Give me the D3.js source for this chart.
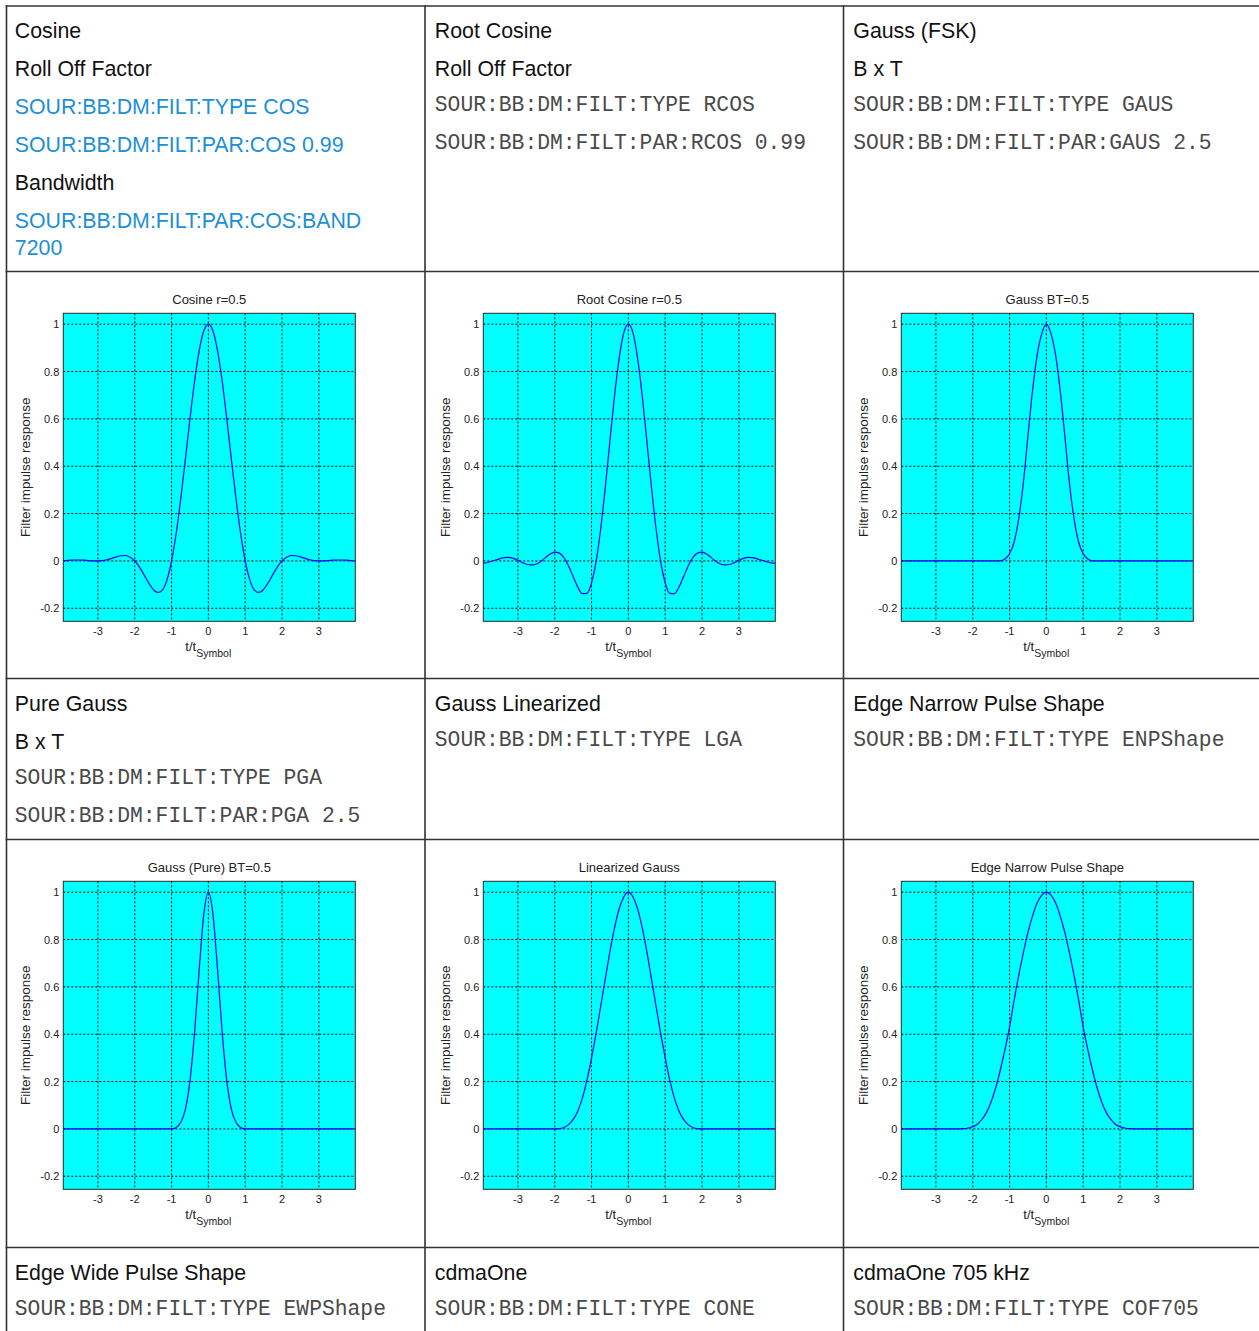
<!DOCTYPE html>
<html>
<head>
<meta charset="utf-8">
<script src="https://cdn.jsdelivr.net/npm/d3@7"></script>
<style>
  body { margin: 0; background: #fff; }
  svg text { font-family: "Liberation Sans", Arial, sans-serif; }
</style>
</head>
<body>
<svg id="chart" width="1259" height="1331"></svg>
<script>
// sample points of t/tSymbol
var tSymbol = [-4, -3.875, -3.75, -3.625, -3.5, -3.375, -3.25, -3.125, -3, -2.875, -2.75, -2.625, -2.5, -2.375, -2.25, -2.125,
  -2, -1.875, -1.75, -1.625, -1.5, -1.375, -1.25, -1.125, -1, -0.875, -0.75, -0.625, -0.5, -0.375, -0.25, -0.125,
  0, 0.125, 0.25, 0.375, 0.5, 0.625, 0.75, 0.875, 1, 1.125, 1.25, 1.375, 1.5, 1.625, 1.75, 1.875,
  2, 2.125, 2.25, 2.375, 2.5, 2.625, 2.75, 2.875, 3, 3.125, 3.25, 3.375, 3.5, 3.625, 3.75, 3.875, 4];

var cosineR05 = [0, .001, .003, .004, .004, .003, .001, 0, 0, .001, .005, .011, .017, .022, .023, .016,
  0, -.025, -.058, -.092, -.120, -.133, -.123, -.080, 0, .116, .263, .429, .600, .759, .887, .971,
  1, .971, .887, .759, .600, .429, .263, .116, 0, -.080, -.123, -.133, -.120, -.092, -.058, -.025,
  0, .016, .023, .022, .017, .011, .005, .001, 0, 0, .001, .003, .004, .004, .003, .001, 0];

var rootCosineR05 = [-.009, -.008, -.003, .003, .009, .014, .015, .011, .003, -.007, -.015, -.017, -.013, -.002, .014, .029,
  .037, .033, .014, -.021, -.066, -.110, -.138, -.137, -.093, -.001, .138, .314, .509, .699, .857, .963,
  1, .963, .857, .699, .509, .314, .138, -.001, -.093, -.137, -.138, -.110, -.066, -.021, .014, .033,
  .037, .029, .014, -.002, -.013, -.017, -.015, -.007, .003, .011, .015, .014, .009, .003, -.003, -.008, -.009];

var gaussBT05 = [0, 0, 0, 0, 0, 0, 0, 0, 0, 0, 0, 0, 0, 0, 0, 0,
  0, 0, 0, 0, 0, 0, 0, .008, .03, .08, .18, .33, .53, .72, .87, .96,
  1, .96, .87, .72, .53, .33, .18, .08, .03, .008, 0, 0, 0, 0, 0, 0,
  0, 0, 0, 0, 0, 0, 0, 0, 0, 0, 0, 0, 0, 0, 0, 0, 0];

var pureGaussBT05 = [0, 0, 0, 0, 0, 0, 0, 0, 0, 0, 0, 0, 0, 0, 0, 0,
  0, 0, 0, 0, 0, 0, 0, 0, 0, .006, .028, .083, .203, .408, .671, .905,
  1, .905, .671, .408, .203, .083, .028, .006, 0, 0, 0, 0, 0, 0, 0, 0,
  0, 0, 0, 0, 0, 0, 0, 0, 0, 0, 0, 0, 0, 0, 0, 0, 0];

var linearizedGauss = [0, 0, 0, 0, 0, 0, 0, 0, 0, 0, 0, 0, 0, 0, 0, 0,
  0, .001, .006, .018, .04, .075, .13, .205, .30, .405, .52, .635, .75, .85, .93, .98,
  1, .98, .93, .85, .75, .635, .52, .405, .30, .205, .13, .075, .04, .018, .006, .001,
  0, 0, 0, 0, 0, 0, 0, 0, 0, 0, 0, 0, 0, 0, 0, 0, 0];

var edgeNarrow = [0, 0, 0, 0, 0, 0, 0, 0, 0, 0, 0, 0, 0, 0, .001, .004,
  .009, .02, .04, .07, .115, .175, .25, .335, .43, .545, .65, .745, .83, .90, .955, .988,
  1, .988, .955, .90, .83, .745, .65, .545, .43, .335, .25, .175, .115, .07, .04, .02,
  .009, .004, .001, 0, 0, 0, 0, 0, 0, 0, 0, 0, 0, 0, 0, 0, 0];

var plotTitles = ["Cosine r=0.5", "Root Cosine r=0.5", "Gauss BT=0.5",
  "Gauss (Pure) BT=0.5", "Linearized Gauss", "Edge Narrow Pulse Shape"];
var plotSeries = [cosineR05, rootCosineR05, gaussBT05, pureGaussBT05, linearizedGauss, edgeNarrow];

var xTicks = [-3, -2, -1, 0, 1, 2, 3];
var yTicks = [-0.2, 0, 0.2, 0.4, 0.6, 0.8, 1];

// text cells: h = heading, link = blue command, code = monospace command
var textRow1 = [
  [["h", "Cosine"], ["h", "Roll Off Factor"], ["link", "SOUR:BB:DM:FILT:TYPE COS"],
   ["link", "SOUR:BB:DM:FILT:PAR:COS 0.99"], ["h", "Bandwidth"], ["link", "SOUR:BB:DM:FILT:PAR:COS:BAND", "7200"]],
  [["h", "Root Cosine"], ["h", "Roll Off Factor"], ["code", "SOUR:BB:DM:FILT:TYPE RCOS"], ["code", "SOUR:BB:DM:FILT:PAR:RCOS 0.99"]],
  [["h", "Gauss (FSK)"], ["h", "B x T"], ["code", "SOUR:BB:DM:FILT:TYPE GAUS"], ["code", "SOUR:BB:DM:FILT:PAR:GAUS 2.5"]]
];
var textRow2 = [
  [["h", "Pure Gauss"], ["h", "B x T"], ["code", "SOUR:BB:DM:FILT:TYPE PGA"], ["code", "SOUR:BB:DM:FILT:PAR:PGA 2.5"]],
  [["h", "Gauss Linearized"], ["code", "SOUR:BB:DM:FILT:TYPE LGA"]],
  [["h", "Edge Narrow Pulse Shape"], ["code", "SOUR:BB:DM:FILT:TYPE ENPShape"]]
];
var textRow3 = [
  [["h", "Edge Wide Pulse Shape"], ["code", "SOUR:BB:DM:FILT:TYPE EWPShape"]],
  [["h", "cdmaOne"], ["code", "SOUR:BB:DM:FILT:TYPE CONE"]],
  [["h", "cdmaOne 705 kHz"], ["code", "SOUR:BB:DM:FILT:TYPE COF705"]]
];

var svg = d3.select("#chart");

var colX = [6.5, 425, 843.5];
var rowY = [6, 271.5, 678.5, 839.5, 1247.5];
var plotLeft = [63.3, 483.3, 901.3];
var pw = 292, ph = 308;

// table grid
var grid = svg.append("g").attr("stroke", "#333").attr("stroke-width", 1.6);
rowY.forEach(function(y) {
  grid.append("line").attr("x1", 5.7).attr("x2", 1259).attr("y1", y).attr("y2", y);
});
colX.forEach(function(x) {
  grid.append("line").attr("x1", x).attr("x2", x).attr("y1", 5.2).attr("y2", 1331);
});

function drawTextCell(cell, x0, y0) {
  var y = y0 + 32;
  cell.forEach(function(p) {
    var kind = p[0];
    p.slice(1).forEach(function(line, i) {
      if (i > 0) y += 27.3;
      var t = svg.append("text").attr("x", x0).attr("y", kind === "code" ? y - 3 : y).text(line);
      if (kind === "code") {
        t.style("font-family", "'Liberation Mono', 'Courier New', monospace")
         .attr("font-size", 21.33).attr("fill", "#4a4a4a");
      } else {
        t.attr("font-size", 21.33).attr("fill", kind === "link" ? "#1b8fd8" : "#111");
      }
    });
    y += 38;
  });
}

[[textRow1, rowY[0]], [textRow2, rowY[2]], [textRow3, rowY[4]]].forEach(function(r) {
  r[0].forEach(function(cell, c) {
    drawTextCell(cell, colX[c] + (c === 0 ? 8.3 : 9.8), r[1]);
  });
});

function drawPlot(k, left, top) {
  var x = d3.scaleLinear().domain([-3.94, 3.99]).range([left, left + pw]);
  var y = d3.scaleLinear().domain([-0.255, 1.046]).range([top + ph, top]);
  var g = svg.append("g");

  g.append("rect").attr("x", left).attr("y", top).attr("width", pw).attr("height", ph)
    .attr("fill", "#00ffff");

  g.append("g").selectAll("line").data(xTicks).join("line")
    .attr("x1", function(d) { return x(d); }).attr("x2", function(d) { return x(d); })
    .attr("y1", top).attr("y2", top + ph)
    .attr("stroke", "#000").attr("stroke-width", 1).attr("stroke-dasharray", "2,2");
  g.append("g").selectAll("line").data(yTicks).join("line")
    .attr("y1", function(d) { return y(d); }).attr("y2", function(d) { return y(d); })
    .attr("x1", left).attr("x2", left + pw)
    .attr("stroke", "#000").attr("stroke-width", 1).attr("stroke-dasharray", "2,2");

  var clipId = "clip" + k;
  svg.append("clipPath").attr("id", clipId).append("rect")
    .attr("x", left).attr("y", top).attr("width", pw).attr("height", ph);

  var line = d3.line()
    .x(function(d, i) { return x(tSymbol[i]); })
    .y(function(d) { return y(d); })
    .curve(d3.curveMonotoneX);
  g.append("path").datum(plotSeries[k]).attr("d", line)
    .attr("clip-path", "url(#" + clipId + ")")
    .attr("fill", "none").attr("stroke", "#0000ff").attr("stroke-width", 1.2);

  g.append("rect").attr("x", left).attr("y", top).attr("width", pw).attr("height", ph)
    .attr("fill", "none").attr("stroke", "#2a2a2a").attr("stroke-width", 1);

  g.append("g").selectAll("text").data(yTicks).join("text")
    .attr("x", left - 4).attr("y", function(d) { return y(d) + 4; })
    .attr("text-anchor", "end").attr("font-size", 11).attr("fill", "#222")
    .text(function(d) { return String(d); });
  g.append("g").selectAll("text").data(xTicks).join("text")
    .attr("x", function(d) { return x(d); }).attr("y", top + ph + 13.5)
    .attr("text-anchor", "middle").attr("font-size", 11).attr("fill", "#222")
    .text(function(d) { return String(d); });

  g.append("text").attr("x", left + pw / 2).attr("y", top - 9)
    .attr("text-anchor", "middle").attr("font-size", 13).attr("fill", "#222")
    .text(plotTitles[k]);

  var xl = g.append("text").attr("x", left + pw / 2 - 1).attr("y", top + ph + 30)
    .attr("text-anchor", "middle").attr("font-size", 13).attr("fill", "#222");
  xl.append("tspan").text("t/t");
  xl.append("tspan").attr("dy", 6).attr("font-size", 10.5).text("Symbol");

  g.append("text")
    .attr("transform", "translate(" + (left - 33) + "," + (top + ph / 2) + ") rotate(-90)")
    .attr("text-anchor", "middle").attr("font-size", 13.5).attr("fill", "#222")
    .text("Filter impulse response");
}

plotSeries.forEach(function(s, k) {
  var r = Math.floor(k / 3), c = k % 3;
  drawPlot(k, plotLeft[c], rowY[1 + 2 * r] + 41.8);
});
</script>
</body>
</html>
